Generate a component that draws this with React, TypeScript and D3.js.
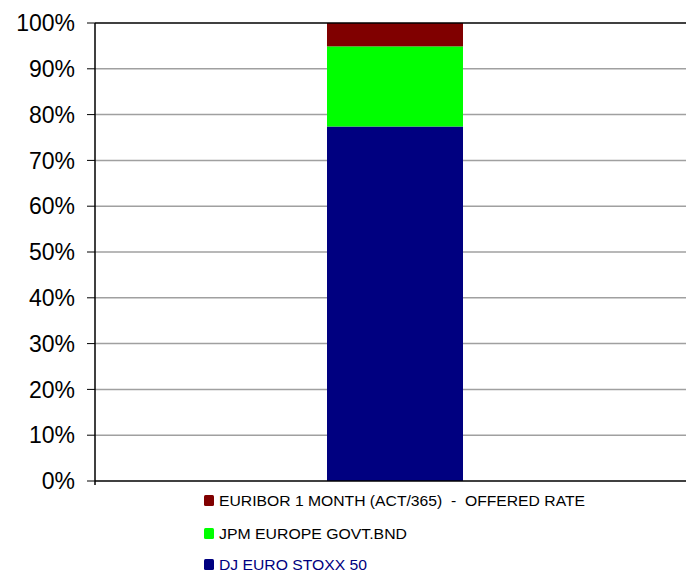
import React from "react";
import * as d3 from "d3";

const categories = ["Portfolio"];
const seriesNames = ["DJ EURO STOXX 50", "JPM EUROPE GOVT.BND", "EURIBOR 1 MONTH (ACT/365)  -  OFFERED RATE"];
const seriesValues = [77.4, 17.5, 5.1];
const seriesColors = ["#000080", "#00ff00", "#800000"];
const legendTextColors = ["#000080", "#000000", "#000000"];
const yTicks = [0, 10, 20, 30, 40, 50, 60, 70, 80, 90, 100];

export default function App() {
  const W = 686, H = 572;
  const left = 95, right = 686, top = 23, bottom = 481;
  const y = d3.scaleLinear().domain([0, 100]).range([bottom, top]);
  const x = d3.scaleBand().domain(categories).range([left, 695]).paddingInner(0).paddingOuter(0);
  const bandW = x.bandwidth();
  const barW = 136;
  const barX = (x(categories[0]) as number) + bandW / 2 - barW / 2;

  const stack = d3.stack<number[]>().keys(seriesNames.map((_, i) => String(i))).value((d, k) => d[+k]);
  const stacked = stack([seriesValues]);

  const legendOrder = [2, 1, 0];
  const legendY = [501, 534, 565];
  const legendWidths = [148, 188, 366];

  return (
    <svg width={W} height={H} style={{ position: "absolute", left: 0, top: 0, background: "#fff" }}
      fontFamily="'Liberation Sans', Arial, sans-serif">
      {yTicks.map((t) => (
        <g key={t}>
          {t > 0 && t < 100 && (
            <line x1={left} x2={right} y1={y(t)} y2={y(t)} stroke="#a0a0a0" strokeWidth={1.5} />
          )}
          <line x1={left - 8} x2={left} y1={y(t)} y2={y(t)} stroke="#000" strokeWidth={1} />
          <text x={75} y={y(t)} dy="0.36em" textAnchor="end" fontSize={23} fill="#000">{t}%</text>
        </g>
      ))}
      {stacked.map((s, i) => (
        <rect key={i} x={barX} width={barW} y={y(s[0][1])} height={y(s[0][0]) - y(s[0][1])} fill={seriesColors[i]} />
      ))}
      <line x1={left} x2={right} y1={top} y2={top} stroke="#000" strokeWidth={1.5} />
      <line x1={left} x2={right} y1={bottom} y2={bottom} stroke="#000" strokeWidth={1.5} />
      <line x1={left} x2={left} y1={top} y2={bottom + 4} stroke="#000" strokeWidth={1.5} />
      {legendOrder.map((si, r) => (
        <g key={si}>
          <rect x={204} y={legendY[r] - 6} width={10} height={11} rx={1.5} fill={seriesColors[si]} />
          <text x={219} y={legendY[r]} dy="0.35em" fontSize={15} fill={legendTextColors[si]}
            textLength={legendWidths[si]} lengthAdjust="spacingAndGlyphs" style={{ whiteSpace: "pre" }}>
            {seriesNames[si]}
          </text>
        </g>
      ))}
    </svg>
  );
}
